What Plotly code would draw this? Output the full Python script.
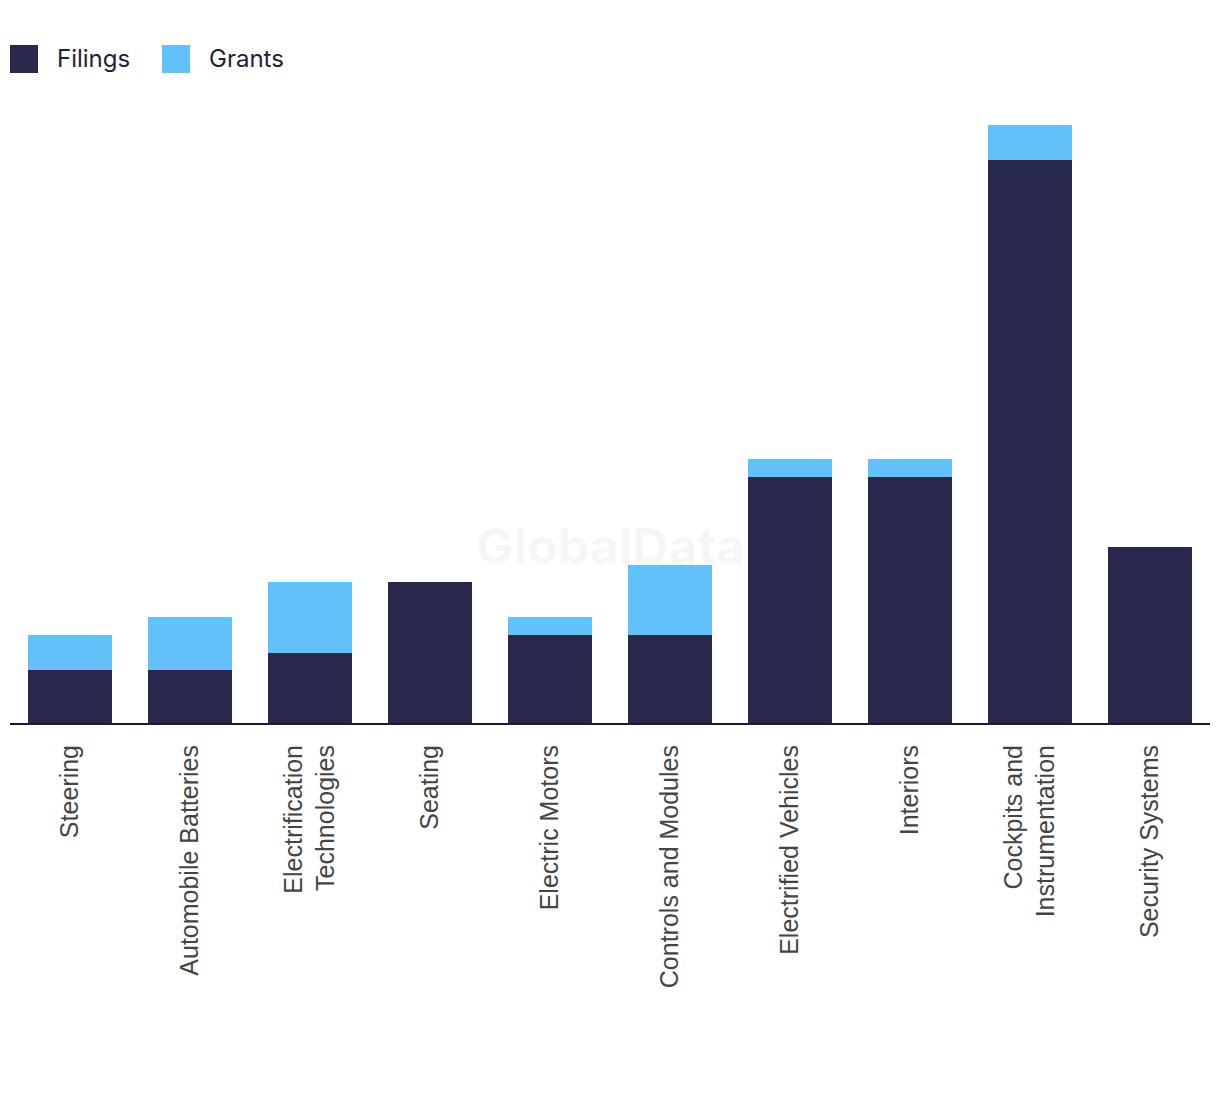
import plotly.graph_objects as go

categories = ["Steering", "Automobile Batteries", "Electrification<br>Technologies", "Seating",
              "Electric Motors", "Controls and Modules", "Electrified Vehicles", "Interiors",
              "Cockpits and<br>Instrumentation", "Security Systems"]
filings = [3, 3, 4, 8, 5, 5, 14, 14, 32, 10]
grants = [2, 3, 4, 0, 1, 4, 1, 1, 2, 0]
series_names = ["Filings", "Grants"]
series_colors = ["#27284b", "#62c1f8"]

TICK_FONT = "'Liberation Sans', Arial, sans-serif"
LEG_FONT = "Inter, Roboto, sans-serif"

fig = go.Figure()
for name, vals, col in zip(series_names, [filings, grants], series_colors):
    fig.add_trace(go.Bar(x=categories, y=vals, name=name, showlegend=False,
                         marker=dict(color=col, line=dict(width=0))))

# manual legend with large square swatches
shapes = []
annotations = []
leg_x = [0.0, 0.12667]
sw = 28 / 1200
for lx, name, col in zip(leg_x, series_names, series_colors):
    shapes.append(dict(type="rect", xref="paper", yref="paper", x0=lx, x1=lx + sw,
                       y0=1.0433, y1=1.0883, fillcolor=col, line=dict(width=0), layer="above"))
    annotations.append(dict(text=name, xref="paper", yref="paper", x=lx + 0.0375, y=1.0674,
                            xanchor="left", yanchor="middle", showarrow=False,
                            font=dict(size=24, color="#1f2033", family=LEG_FONT)))

annotations.append(dict(text="<b>GlobalData</b>", x=0.5, y=0.284, xref="paper", yref="paper",
                        xanchor="center", yanchor="middle",
                        showarrow=False, font=dict(size=50, color="rgba(0,0,0,0.035)", family=LEG_FONT)))

fig.update_layout(
    barmode="stack",
    bargap=0.3,
    width=1220, height=1094,
    paper_bgcolor="white", plot_bgcolor="white",
    margin=dict(l=2, r=18, t=92, b=379),
    font=dict(family=TICK_FONT, color="#444444"),
    showlegend=False,
    xaxis=dict(showline=True, linecolor="#1a1a2e", linewidth=2, ticks="", tickangle=-90,
               tickfont=dict(size=25, color="#444444", family=TICK_FONT), showgrid=False,
               fixedrange=True, ticklabelstandoff=10, automargin=False),
    yaxis=dict(visible=False, range=[0, 35.4], showgrid=False, zeroline=False, fixedrange=True),
    shapes=shapes,
    annotations=annotations,
)
fig.write_html("out.html")
